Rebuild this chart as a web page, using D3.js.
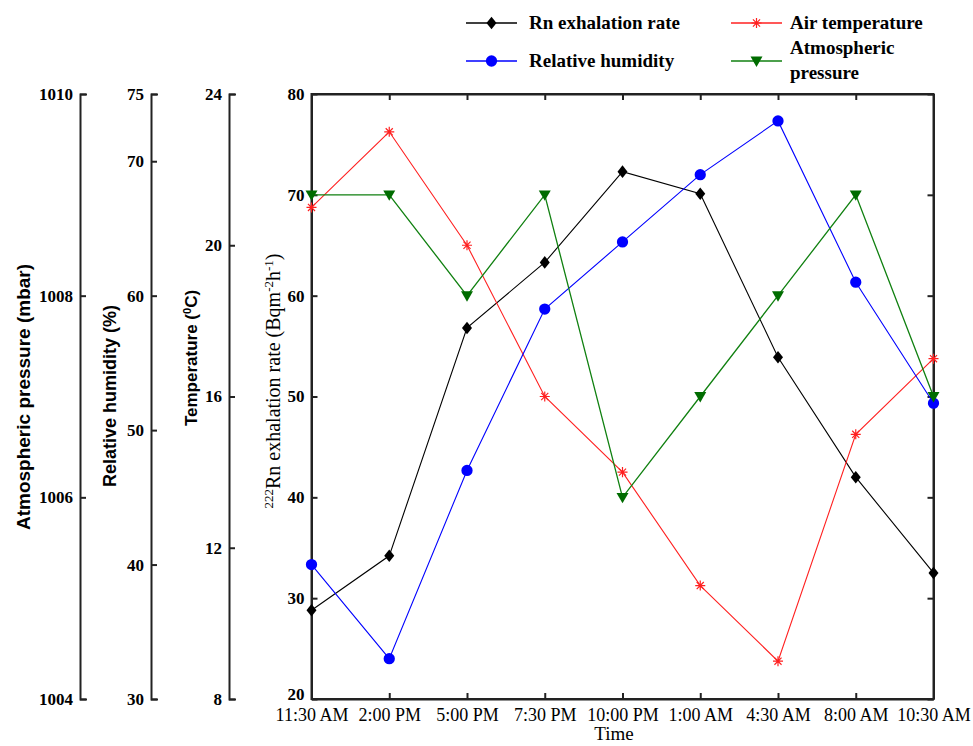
<!DOCTYPE html>
<html>
<head>
<meta charset="utf-8">
<script src="https://cdn.jsdelivr.net/npm/d3@7"></script>
<style>
  body { margin: 0; background: #fff; }
  svg { display: block; }
</style>
</head>
<body>
<div id="chart"></div>
<script>
// data
const times = ["11:30 AM", "2:00 PM", "5:00 PM", "7:30 PM", "10:00 PM", "1:00 AM", "4:30 AM", "8:00 AM", "10:30 AM"];
const rnRate = [28.8, 34.2, 56.8, 63.3, 72.3, 70.1, 53.9, 42.0, 32.5];
const airTemp = [21, 23, 20, 16, 14, 11, 9, 15, 17];
const humidity = [40, 33, 47, 59, 64, 69, 73, 61, 52];
const pressure = [1009, 1009, 1008, 1009, 1006, 1007, 1008, 1009, 1007];

const rnTicks = [20, 30, 40, 50, 60, 70, 80];
const tempTicks = [8, 12, 16, 20, 24];
const humTicks = [30, 40, 50, 60, 70, 75];
const presTicks = [1004, 1006, 1008, 1010];

const SERIF = '"Liberation Serif", "Times New Roman", serif';
const SANS = '"Liberation Sans", Arial, sans-serif';

const width = 973;
const height = 746;

const svg = d3.select("#chart").append("svg")
  .attr("width", width)
  .attr("height", height);

svg.append("rect").attr("width", width).attr("height", height).attr("fill", "#fff");

const plotLeft = 311.5, plotRight = 933.5, plotTop = 94, plotBottom = 699;

const x = d3.scalePoint().domain(times).range([plotLeft, plotRight]);
const yRn = d3.scaleLinear().domain([20, 80]).range([plotBottom, plotTop]);
const yT = d3.scaleLinear().domain([8, 24]).range([plotBottom, plotTop]);
const yH = d3.scaleLinear().domain([30, 75]).range([plotBottom, plotTop]);
const yP = d3.scaleLinear().domain([1004, 1010]).range([plotBottom, plotTop]);

const axisColor = "#222";

function styleAxis(g, size, weight) {
  g.attr("font-family", null).attr("font-size", null);
  g.select(".domain").attr("stroke", axisColor).attr("stroke-width", 2);
  g.selectAll(".tick line").attr("stroke", axisColor).attr("stroke-width", 2);
  g.selectAll(".tick text")
    .attr("fill", "#000")
    .style("font-family", SERIF)
    .style("font-size", size + "px")
    .style("font-weight", weight);
}

// side axes (ticks point right, labels left)
const sideAxes = [
  { scale: yP, ticks: presTicks, x: 80 },
  { scale: yH, ticks: humTicks, x: 151 },
  { scale: yT, ticks: tempTicks, x: 229 }
];

sideAxes.forEach(a => {
  const g = svg.append("g")
    .attr("transform", `translate(${a.x},0)`)
    .call(d3.axisLeft(a.scale).tickValues(a.ticks).tickFormat(d3.format("d"))
      .tickSizeInner(-6).tickSizeOuter(-7).tickPadding(7));
  styleAxis(g, 17, "bold");
});

// main plot frame
svg.append("rect")
  .attr("x", plotLeft).attr("y", plotTop)
  .attr("width", plotRight - plotLeft).attr("height", plotBottom - plotTop)
  .attr("fill", "none").attr("stroke", axisColor).attr("stroke-width", 2);

const gLeft = svg.append("g")
  .attr("transform", `translate(${plotLeft},0)`)
  .call(d3.axisLeft(yRn).tickValues(rnTicks).tickSizeInner(-6).tickSizeOuter(0).tickPadding(7));
styleAxis(gLeft, 17, "bold");
gLeft.selectAll(".tick text").filter(d => d === 20).attr("dy", "0.05em");

const gRight = svg.append("g")
  .attr("transform", `translate(${plotRight},0)`)
  .call(d3.axisRight(yRn).tickValues(rnTicks).tickSizeInner(-6).tickSizeOuter(0).tickFormat(""));
styleAxis(gRight, 17, "bold");

const gBottom = svg.append("g")
  .attr("transform", `translate(0,${plotBottom})`)
  .call(d3.axisBottom(x).tickSizeInner(-6).tickSizeOuter(0).tickPadding(9));
styleAxis(gBottom, 18, "normal");

const gTop = svg.append("g")
  .attr("transform", `translate(0,${plotTop})`)
  .call(d3.axisTop(x).tickSizeInner(-6).tickSizeOuter(0).tickFormat(""));
styleAxis(gTop, 18, "normal");

// axis titles
svg.append("text")
  .attr("x", 614).attr("y", 740)
  .attr("text-anchor", "middle")
  .style("font-family", SERIF)
  .style("font-size", "19px")
  .text("Time");

function rotLabel(cx, cy, family, size, weight) {
  return svg.append("text")
    .attr("transform", `translate(${cx},${cy}) rotate(-90)`)
    .attr("text-anchor", "middle")
    .style("font-family", family)
    .style("font-size", size + "px")
    .style("font-weight", weight);
}

rotLabel(30, 397, SANS, 19, "bold").text("Atmospheric pressure (mbar)");
rotLabel(116, 396, SANS, 18, "bold").text("Relative humidity (%)");

const tLab = rotLabel(197, 358, SANS, 17, "bold");
tLab.append("tspan").text("Temperature (");
tLab.append("tspan").attr("baseline-shift", "super").style("font-size", "11px").text("0");
tLab.append("tspan").text("C)");

const rnLab = rotLabel(280, 381, SERIF, 20, "normal");
rnLab.append("tspan").attr("baseline-shift", "super").style("font-size", "13px").text("222");
rnLab.append("tspan").text("Rn exhalation rate (Bqm");
rnLab.append("tspan").attr("baseline-shift", "super").style("font-size", "13px").text("-2");
rnLab.append("tspan").text("h");
rnLab.append("tspan").attr("baseline-shift", "super").style("font-size", "13px").text("-1");
rnLab.append("tspan").text(")");

// marker shapes
const diamond = {
  draw(ctx, size) {
    const h = Math.sqrt(size) * 0.75, w = h * 0.8;
    ctx.moveTo(0, -h); ctx.lineTo(w, 0); ctx.lineTo(0, h); ctx.lineTo(-w, 0); ctx.closePath();
  }
};
const triDown = {
  draw(ctx, size) {
    const s = Math.sqrt(size);
    ctx.moveTo(-s * 0.75, -s * 0.55); ctx.lineTo(s * 0.75, -s * 0.55); ctx.lineTo(0, s * 0.75); ctx.closePath();
  }
};
const star = {
  draw(ctx, size) {
    const r = Math.sqrt(size) * 0.6;
    for (let i = 0; i < 4; i++) {
      const a = i * Math.PI / 4;
      ctx.moveTo(-r * Math.cos(a), -r * Math.sin(a));
      ctx.lineTo(r * Math.cos(a), r * Math.sin(a));
    }
  }
};

const series = [
  { name: "Rn exhalation rate", values: rnRate, y: yRn, line: "#000", fill: "#000", shape: diamond, size: 70, lw: 1.1 },
  { name: "Air temperature", values: airTemp, y: yT, line: "#ff2020", fill: "none", shape: star, size: 70, lw: 1.1 },
  { name: "Relative humidity", values: humidity, y: yH, line: "#0000ff", fill: "#0000ff", shape: d3.symbolCircle, size: 100, lw: 1.1 },
  { name: "Atmospheric pressure", values: pressure, y: yP, line: "#108010", fill: "#006c00", shape: triDown, size: 64, lw: 1.3 }
];

const line = d3.line();

series.forEach(s => {
  const pts = s.values.map((v, i) => [x(times[i]), s.y(v)]);
  svg.append("path")
    .attr("d", line(pts))
    .attr("fill", "none")
    .attr("stroke", s.line)
    .attr("stroke-width", s.lw);
  svg.append("g").selectAll("path")
    .data(pts)
    .join("path")
    .attr("transform", d => `translate(${d[0]},${d[1]})`)
    .attr("d", d3.symbol().type(s.shape).size(s.size))
    .attr("fill", s.fill)
    .attr("stroke", s.fill === "none" ? s.line : "none")
    .attr("stroke-width", 1.2);
});

// legend
const legendPos = [
  { x: 466, y: 23, tx: 63, lines: ["Rn exhalation rate"] },
  { x: 731, y: 23, tx: 59, lines: ["Air temperature"] },
  { x: 466, y: 61, tx: 63, lines: ["Relative humidity"] },
  { x: 731, y: 61, tx: 59, lines: ["Atmospheric", "pressure"] }
];

series.forEach((s, i) => {
  const p = legendPos[i];
  const g = svg.append("g").attr("transform", `translate(${p.x},${p.y})`);
  g.append("line").attr("x1", 0).attr("x2", 51).attr("stroke", s.line).attr("stroke-width", 1.5);
  g.append("path")
    .attr("transform", "translate(25.5,0)")
    .attr("d", d3.symbol().type(s.shape).size(s.size))
    .attr("fill", s.fill)
    .attr("stroke", s.fill === "none" ? s.line : "none")
    .attr("stroke-width", 1.2);
  const t = g.append("text")
    .style("font-family", SERIF)
    .style("font-size", "19px")
    .style("font-weight", "bold");
  if (p.lines.length === 1) {
    t.append("tspan").attr("x", p.tx).attr("y", 6).text(p.lines[0]);
  } else {
    t.append("tspan").attr("x", p.tx).attr("y", -7).text(p.lines[0]);
    t.append("tspan").attr("x", p.tx).attr("y", 18).text(p.lines[1]);
  }
});
</script>
</body>
</html>
